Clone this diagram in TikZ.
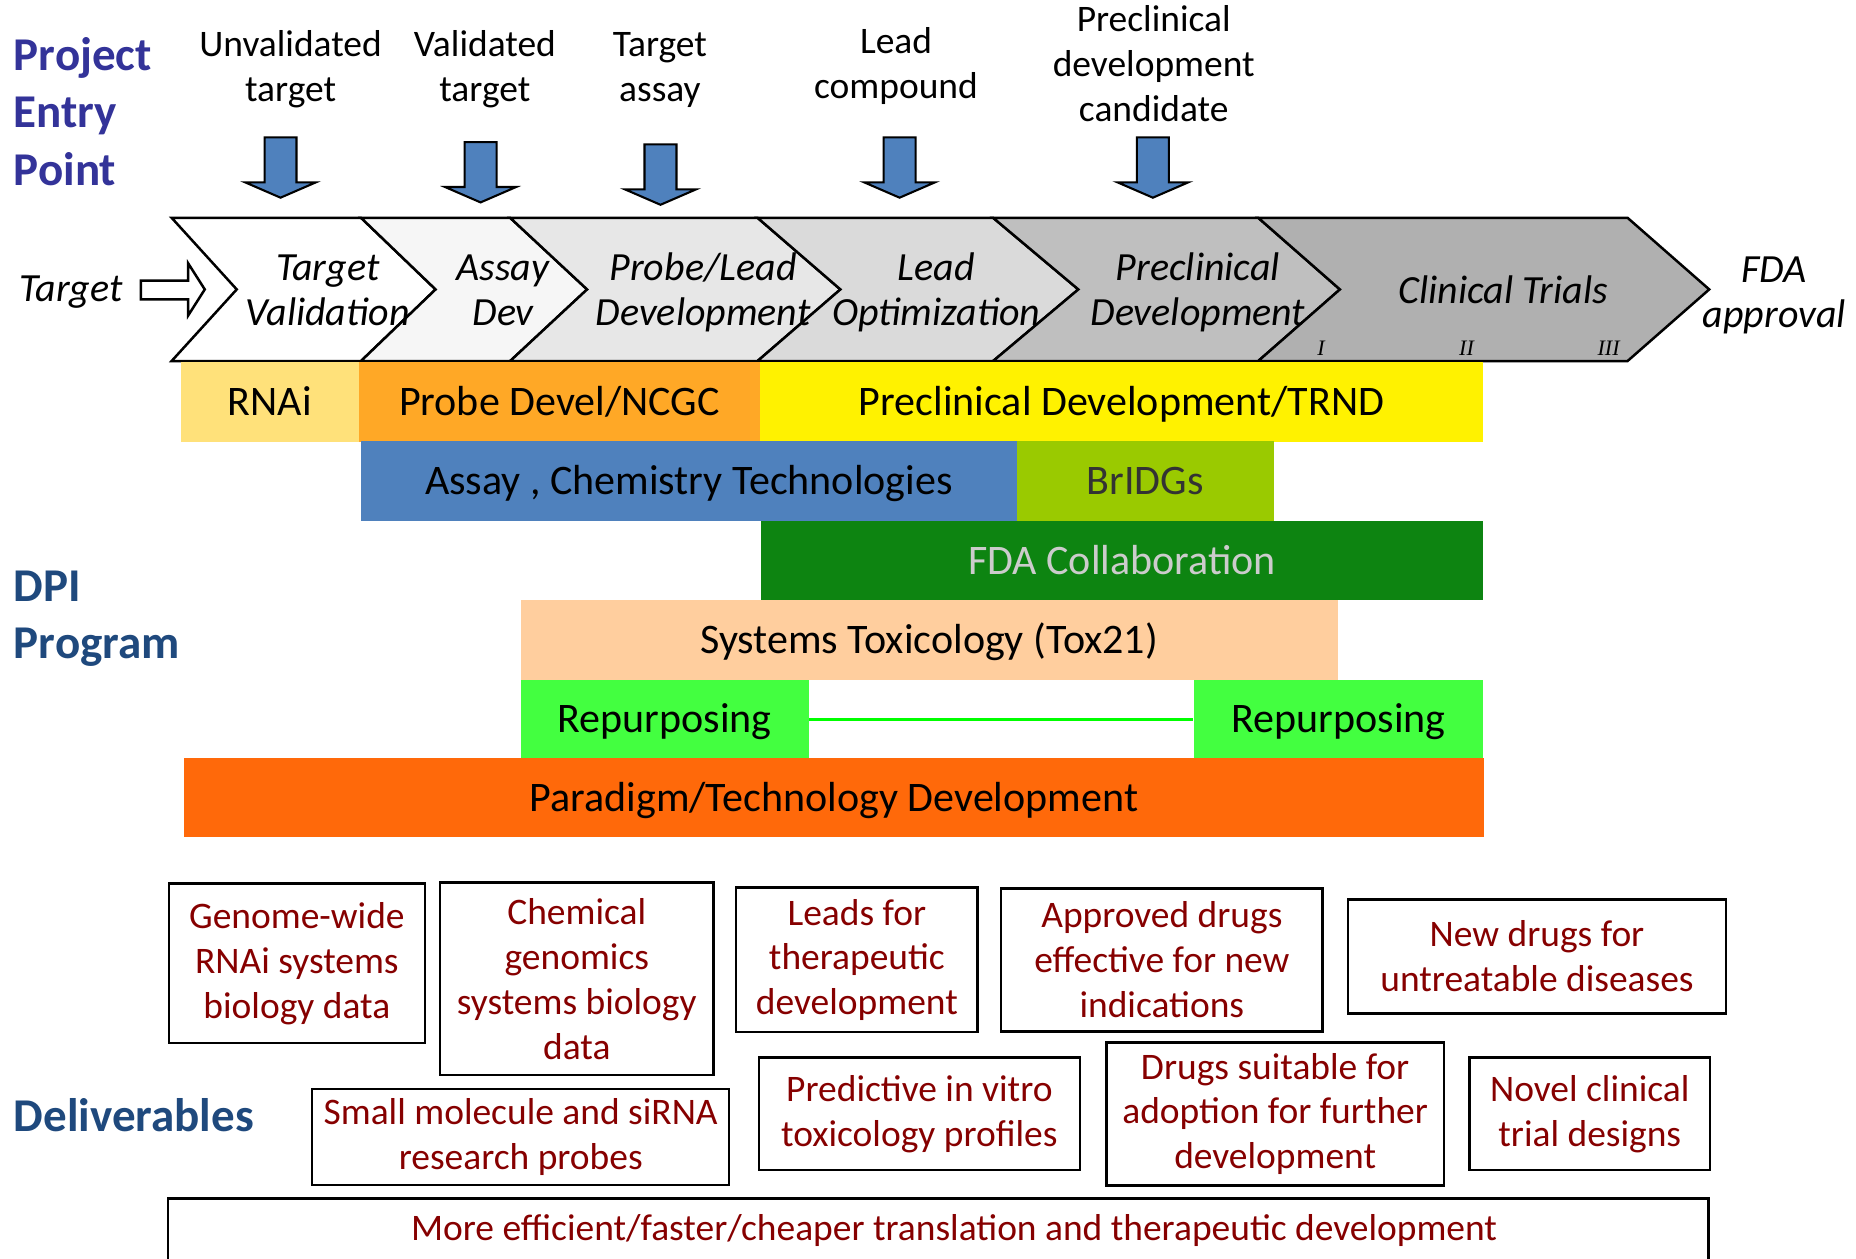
\documentclass[tikz,border=0pt]{standalone}
\usepackage{fontspec}
\setmainfont{Carlito}
\newfontfamily\phasefont{Liberation Serif}

\definecolor{entryblue}{RGB}{51,51,153}
\definecolor{dpiblue}{RGB}{31,73,125}
\definecolor{arrowblue}{RGB}{79,129,189}
\definecolor{chevB}{RGB}{246,246,246}
\definecolor{chevC}{RGB}{231,231,231}
\definecolor{chevD}{RGB}{218,218,218}
\definecolor{chevE}{RGB}{191,191,191}
\definecolor{chevF}{RGB}{176,176,176}
\definecolor{rnaiyellow}{RGB}{255,225,122}
\definecolor{probeorange}{RGB}{255,168,38}
\definecolor{bridgsgreen}{RGB}{154,202,0}
\definecolor{fdagreen}{RGB}{13,132,17}
\definecolor{toxpeach}{RGB}{255,206,158}
\definecolor{repgreen}{RGB}{67,255,64}
\definecolor{paraorange}{RGB}{255,105,10}
\definecolor{delivred}{RGB}{134,0,0}

\tikzset{
  heading/.style={anchor=base west, align=left, inner sep=0pt,
    font=\fontsize{11.3}{13.7}\selectfont\bfseries},
  entry/.style={anchor=base, align=center, inner sep=0pt,
    font=\fontsize{9}{10.8}\selectfont},
  stage/.style={anchor=base, align=center, inner sep=0pt,
    font=\fontsize{9.6}{10.8}\selectfont\itshape},
  phase/.style={anchor=base, inner sep=0pt,
    font=\phasefont\fontsize{5.3}{6}\selectfont\itshape},
  band/.style={inner sep=0pt, text height=6.5pt, text depth=0pt,
    font=\fontsize{10.1}{12}\selectfont},
  deliv/.style={draw, line width=0.6pt, align=center, inner sep=0pt,
    text=delivred, font=\fontsize{9}{10.8}\selectfont},
}

\begin{document}
\begin{tikzpicture}[x=0.01cm,y=-0.01cm]
  \useasboundingbox (0,0) rectangle (1568,1063);

  \node[heading, text=entryblue] (entrypoint) at (11,156.3) {Project\\Entry\\Point};
  \node[heading, text=dpiblue] (dpi) at (11,556.2) {DPI\\Program};
  \node[heading, text=dpiblue] (deliverables) at (11,956) {Deliverables};

  \begin{scope}[every node/.style={entry}]
    \node (unval)  at (245.5,85.9) {Unvalidated\\target};
    \node (val)    at (409.6,85.9) {Validated\\target};
    \node (tassay) at (557.5,85.9) {Target\\assay};
    \node (lead)   at (757,83.1)   {Lead\\compound};
    \node (cand)   at (974.7,102.8) {Preclinical\\development\\candidate};
  \end{scope}

  % entry point arrows
  \foreach \ax/\at in {237/116, 406/120, 558/122, 760/116, 974/116}
    \filldraw[fill=arrowblue, line width=0.5pt]
      (\ax-13.5,\at) -- (\ax+13.5,\at) -- (\ax+13.5,\at+38) -- (\ax+30,\at+38)
      -- (\ax,\at+51) -- (\ax-30,\at+38) -- (\ax-13.5,\at+38) -- cycle;

  % pipeline chevrons
  \foreach \l/\r/\dl/\dr/\c in {145/305/55/63/white, 305/431/63/65/chevB,
      431/640/65/70/chevC, 640/839/70/72/chevD, 839/1063/72/69/chevE,
      1063/1375/69/69/chevF}
    \filldraw[fill=\c, line width=0.6pt]
      (\l,184) -- (\r,184) -- (\r+\dr,244.5) -- (\r,305) -- (\l,305)
      -- (\l+\dl,244.5) -- cycle;

  \filldraw[fill=white, line width=0.6pt]
    (119,237) -- (159,237) -- (159,222.5) -- (173,244.5) -- (159,266.5)
    -- (159,253) -- (119,253) -- cycle;

  \begin{scope}[every node/.style={stage}]
    \node (target)  at (60,255)     {Target};
    \node (tv)      at (277,274.6)  {Target\\Validation};
    \node (ad)      at (425,274.6)  {Assay\\Dev};
    \node (pld)     at (594,274.6)  {Probe/Lead\\Development};
    \node (lo)      at (791,274.6)  {Lead\\Optimization};
    \node (pd)      at (1012,274.6) {Preclinical\\Development};
    \node (ct)      at (1270,256)   {Clinical Trials};
    \node (fda)     at (1499,277)   {FDA\\approval};
  \end{scope}

  \begin{scope}[every node/.style={phase}]
    \node (ph1) at (1116,300.7) {I};
    \node (ph2) at (1239,300.7) {II};
    \node (ph3) at (1359,300.7) {III};
  \end{scope}

  \begin{scope}[every node/.style={band}]
    \node[fill=rnaiyellow, minimum width=1.50cm, minimum height=0.67cm] (rnai) at (228,339.5) {RNAi};
    \node[fill=probeorange, minimum width=3.39cm, minimum height=0.67cm] (probe) at (472.5,339.5) {Probe Devel/NCGC};
    \node[fill=yellow, minimum width=6.10cm, minimum height=0.67cm] (trnd) at (947.5,339.5) {Preclinical Development/TRND};
    \node[fill=arrowblue, minimum width=5.54cm, minimum height=0.675cm] (assay) at (582,406.75) {Assay , Chemistry Technologies};
    \node[fill=bridgsgreen, text={black!80}, minimum width=2.17cm, minimum height=0.675cm] (bridgs) at (967.5,406.75) {BrIDGs};
    \node[fill=fdagreen, text={black!20}, minimum width=6.10cm, minimum height=0.665cm] (fdacoll) at (948,473.75) {FDA Collaboration};
    \node[fill=toxpeach, minimum width=6.90cm, minimum height=0.675cm] (tox) at (785,540.75) {Systems Toxicology (Tox21)};
    \node[fill=repgreen, minimum width=2.43cm, minimum height=0.66cm] (repleft) at (561.5,607.5) {Repurposing};
    \node[fill=repgreen, minimum width=2.44cm, minimum height=0.66cm] (repright) at (1131,607.5) {Repurposing};
    \node[fill=paraorange, minimum width=10.97cm, minimum height=0.665cm] (paradigm) at (704.5,673.75) {Paradigm/Technology Development};
  \end{scope}

  \draw[green, line width=0.7pt] (repleft.east) -- (repright.west);

  \begin{scope}[every node/.style={deliv}]
    \node[minimum width=2.16cm, minimum height=1.35cm] (genome) at (250.8,813.8) {Genome-wide\\RNAi systems\\biology data};
    \node[minimum width=2.31cm, minimum height=1.625cm] (chemgen) at (487.3,827) {Chemical\\genomics\\systems biology\\data};
    \node[minimum width=2.04cm, minimum height=1.22cm] (leads) at (723.9,811) {Leads for\\therapeutic\\development};
    \node[minimum width=2.715cm, minimum height=1.21cm] (approved) at (981.6,811) {Approved drugs\\effective for new\\indications};
    \node[minimum width=3.19cm, minimum height=0.96cm] (newdrugs) at (1298.5,808) {New drugs for\\untreatable diseases};
    \node[minimum width=3.52cm, minimum height=0.81cm] (probes) at (439.9,960.5) {Small molecule and siRNA\\research probes};
    \node[minimum width=2.71cm, minimum height=0.95cm] (toxprof) at (776.7,941) {Predictive in vitro\\toxicology profiles};
    \node[minimum width=2.85cm, minimum height=1.21cm] (adoption) at (1077.3,941.1) {Drugs suitable for\\adoption for further\\development};
    \node[minimum width=2.03cm, minimum height=0.95cm] (trials) at (1343.1,941) {Novel clinical\\trial designs};
    \node[minimum width=13.01cm, minimum height=0.80cm] (efficient) at (792.6,1052.4) {};
  \end{scope}
  \node[anchor=base, inner sep=0pt, text=delivred, font=\fontsize{9}{10.8}\selectfont] (efficienttext) at (806,1047.6)
    {More efficient/faster/cheaper translation and therapeutic development};

\end{tikzpicture}
\end{document}
